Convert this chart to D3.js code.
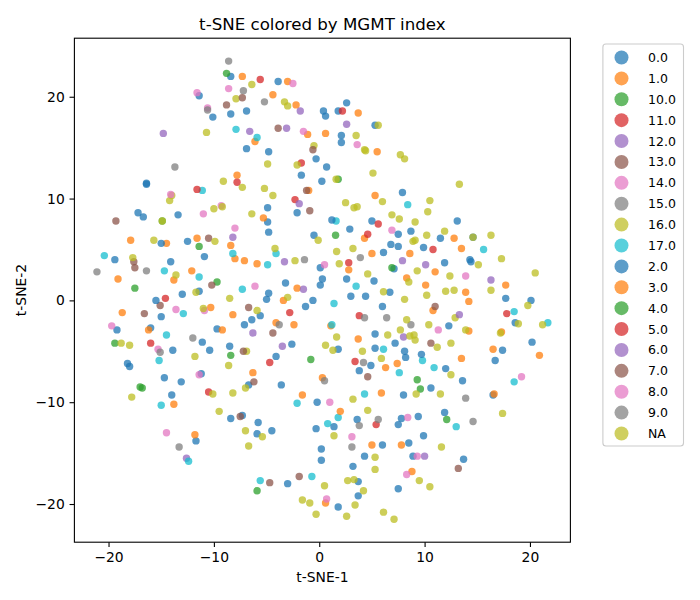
<!DOCTYPE html>
<html><head><meta charset="utf-8">
<script src="https://cdn.jsdelivr.net/npm/d3@7"></script>
<style>
html,body{margin:0;padding:0;background:#fff}
svg{display:block}
text{font-family:"DejaVu Sans",sans-serif;fill:#000}
</style></head><body><div id="chart"></div>
<script>
const categories = ["0.0","1.0","10.0","11.0","12.0","13.0","14.0","15.0","16.0","17.0","2.0","3.0","4.0","5.0","6.0","7.0","8.0","9.0","NA"];
const colors = ["#1f77b4","#ff7f0e","#2ca02c","#d62728","#9467bd","#8c564b","#e377c2","#7f7f7f","#bcbd22","#17becf"];
const xTicks = [-20,-10,0,10,20];
const yTicks = [-20,-10,0,10,20];

const s0_0 = [[-8.4,22],[-3.9,21.5],[-11.4,20.1],[-10.1,18],[-8.4,18.3],[-6.9,18.6],[-6.9,14.9],[-4.8,14.6],[-0.3,13.9],[2.6,19.4],[0.4,18.6],[0.6,18.1],[1.8,18.6],[5.3,17.2],[2.1,16.2],[2.1,15.5],[0.7,13.1],[-1.7,12.3],[-16.4,11.5],[-16.4,11.4],[-17.2,8.6],[-16.7,8.2],[-13.4,8.4],[-4.9,9.1],[-4.9,7.7],[-2.1,8.6],[-4.8,6.7],[-0.5,6.4],[-12.5,5.8],[-19.4,4],[-10.9,4.3],[-14.1,3.8],[0.1,3.2],[0.3,2.1],[0.1,1.5],[-3.2,1.7],[-11.4,0.9],[-13,0.6],[-4.8,0.7]];
const s1_0 = [[-7.3,22],[-3,21.5],[-4.4,20.2],[-2.2,19.2],[-1.1,16.3],[-6.1,15.6],[3.7,18.4],[0.6,16.4],[5.5,14.6],[-7.8,12.3],[-1,10.8],[-5.3,8.1],[-17.9,5.9],[-14.5,5.6],[-11.6,6.1],[-8.4,5.4],[-8,4.1],[-7.1,3.9],[-5.9,3.6],[-12.1,2.9],[-13.8,2],[-19.1,2.1],[-2.1,1.2],[1.1,-2.5]];
const s10_0 = [[-8.8,22.3],[-14.9,7.8],[1.8,11.9],[1.55,6.4],[-11.4,5.3],[-17.5,1.2],[-9.7,1.8]];
const s11_0 = [[-5.6,21.7],[-1.7,13.5],[-7.8,11.6],[-2.3,9.9],[10.8,5],[2.8,3.7],[-14.6,0.2],[-2.8,-1.2]];
const s12_0 = [[-1.8,18.6],[-14.8,16.4],[-6.6,16.6],[-3.1,16.9],[-12.6,-15.5],[2.6,17.3],[-1.9,9.5],[-8.2,6.2],[-3.3,3.8]];
const s13_0 = [[-8.8,19.2],[-3.9,16.9],[-19.3,7.8],[-10.5,6.1],[-17.6,3.8],[-17.5,3.2],[-10.2,1.5],[-0.9,8.8],[-15.1,-0.5],[-16.6,-1.3]];
const s14_0 = [[-2.5,21.3],[-11.6,20.4],[-8.6,20.8],[-1.5,16.6],[3.6,15.3],[-9.3,9.3],[-11,8.5],[-8,7.1],[6.9,6.9],[-6.1,1.4],[0.5,3.5],[-13.6,-0.9],[13.9,2.4]];
const s15_0 = [[-8.6,23.5],[-7.2,20.6],[-5.2,19.5],[-13.7,13.1],[3.9,4.2],[-21.1,2.8],[-16.4,2.9],[-1.4,4]];
const s16_0 = [[-0.5,15.2],[-14,10.3],[-14.2,9.8],[-11.7,0.8],[-6.9,-5],[12.9,-1.7],[-10,9],[-6.4,21.2],[-3.3,19.5],[-3,19.1],[-7.9,19.8],[-10.7,16.5],[-4.9,13.4]];
const s17_0 = [[-7.9,16.8],[-5.9,16],[-11.1,10.8],[8.4,9.4],[1.6,7.8],[15.6,5],[3.5,1.4],[-4.1,4.6],[-8.2,4.6],[-20.4,4.4],[-4.9,3.5],[-14.7,2.9],[-11.4,2.3],[-7.3,1.1],[-12.9,-1.3],[-14.5,-3.4],[-15.2,-5.9],[-15,-10.3],[-2.1,-10.1],[1.4,-0.3],[18.5,-1.1],[21.7,-2.2],[1.2,-2.4],[6.1,-4.8],[9.8,-5.9],[7.6,-7.1],[10.9,-6.6],[18.5,-8],[4.3,-9.2],[1.8,-11.5],[-12.4,-15.8],[-5.6,-17.7],[-0.7,-17.3],[0.8,-12.1],[13,-12.4]];
const s2_0 = [[-15,5.6],[0.25,11.7],[7.9,10.6],[1.2,7.9],[5,7.8],[13.1,7.8],[2.9,7],[8.7,6.8],[7.5,6.5],[11.5,6.1],[14.6,6.2],[6.8,5.5],[7.5,5.3],[9.9,5.2],[6.1,4.7],[11.9,3.7],[14.3,4],[14.4,3.8],[7.1,3.1],[2.6,2.1],[5.2,1.9],[6.7,0.8],[3,0.4],[4.4,0.4],[-15.5,0],[-5,0.1],[-0.6,0],[-1.3,-0.6],[-15,-1.6],[-5.6,-1.5],[-6.4,-1.9],[-7.1,-2.4],[-19.2,-2.9],[-16,-2.7],[-9.7,-2.8],[-11.1,-4.1],[-8.5,-4.5],[-2.6,-4.3],[-13.9,-4.9],[-10.4,-4.9],[-4.1,-5.5],[-18.2,-6.2],[-18,-6.5],[-14.7,-7.6],[-13.1,-8],[-11.2,-7.2],[-6.7,-8.3],[-3.6,-8.3],[-14,-9.3],[-0.2,-10],[-8.4,-11.6],[-7.3,-11.3],[6,-0.6],[17.7,0.2],[20.1,0],[12.3,-2.5],[18.6,-2.2],[5.3,-3.3],[7.2,-4.2],[20.2,-4.1],[5.3,-4.7],[1.8,-4.8],[8.1,-5],[17.4,-4.9],[9.7,-5.3],[8.2,-5.6],[16.7,-5.9],[4.9,-6.4],[3.8,-6.9],[12,-6.7],[13.6,-7.9],[10.6,-8.6],[8,-9.3],[16.5,-9.3],[11.9,-11],[3.6,-11.7],[7.8,-11.6],[9.4,-11.4],[-5.8,-12],[-5.9,-13.1],[-4.5,-12.8],[-0.3,-12.6],[0.2,-14.6],[0.2,-15.7],[-11.7,-13.8],[-3,-18],[1.4,-12.4],[7.5,-12.2],[9.9,-13.3],[6,-14.2],[8.5,-14],[4.3,-15.3],[8.9,-15.3],[13.7,-15.6],[3.2,-16.3],[3.7,-17.8],[7.5,-18.5],[3.7,-19.2],[1.8,-20.3]];
const s3_0 = [[5.3,10.3],[4.3,6.1],[12.8,6.1],[13.5,5.1],[5,4.6],[8.6,4.6],[2.8,3],[11,2.8],[8.3,2.2],[10.1,1.5],[17.7,1.5],[13.9,0.8],[-3.4,0],[-18.7,-1.2],[-10.3,-0.7],[-8.2,-1.4],[-4.1,-2.2],[-2.4,-2.4],[-16.2,-2.9],[-9.2,-2.9],[-6.3,-7.1],[-1.6,-9.3],[-13.8,-10.2],[14.2,-0.1],[10.8,-1],[14.2,-3],[17.3,-3.1],[3.7,-3.8],[16.5,-4.8],[20.9,-5.4],[13.5,-5.7],[7.4,-6.2],[6.3,-6.6],[0.3,-7.6],[5.9,-9.1],[16.6,-9.2],[2,-10.9],[-11.8,-13.2],[5,-14.2],[7.8,-14.2],[8.8,-16.8],[0.6,-19.9]];
const s4_0 = [[6.9,3.2],[-19.4,-4.2],[-8.4,-5.4],[-0.8,-5.8],[-17,-8.5],[-16.8,-8.6],[9.3,-7.8],[9.6,-8.7],[12.1,-11.7],[-5.9,-18.7]];
const s5_0 = [[2.2,18.6],[-11.6,10.9],[4.6,6.5],[5.6,7.5],[-16,-4.2],[-4.7,-6.1],[-10.5,-9],[3.8,-1.5],[17.8,-1.3],[3.4,-6],[5.4,-12.2]];
const s6_0 = [[-1.5,1.1],[7.9,3.9],[10.1,3.5],[16.3,2],[-6.3,-3.2],[-3.5,-4.5],[13.3,-1.4],[8,-3.6],[10,-15.3]];
const s7_0 = [[-7.3,19.9],[-0.6,14.8],[-1.2,10.8],[-6.7,-0.7],[-4.4,-3.2],[-7.2,-5],[-6.2,-8],[-7.5,-11.4],[11,-0.6],[10.6,-4.2],[4.6,-7.5],[-4.7,-17.9],[-1.9,-17.3],[13.2,-16.5]];
const s8_0 = [[-10.6,18.9],[-14.1,10.4],[-10.9,-1],[-19.7,-2.5],[-15.3,-4.8],[-11.4,-7.3],[11.3,-2.9],[19.2,-7.5],[1,-10],[-14.5,-13],[3.1,-13.4],[8.4,-11.5],[9.3,-15.3],[8.3,-17.1],[0.7,-19.5]];
const s9_0 = [[-10.6,18.7],[-12,-3.7],[-3.8,-2.4],[-15.1,-5.1],[4.3,-1.7],[6.4,-1.7],[8.7,-2.4],[4.2,-6.1],[0.5,-7.9],[13.9,-9.6],[5.6,-11.7],[14.6,-11.9],[-13.3,-14.4],[3.8,-12.3],[3.1,-14.4]];
const sNA = [[-2.1,13.3],[5.6,17.2],[3.5,16.2],[4.3,14.8],[4.4,14.7],[7.7,14.3],[8.1,13.9],[-9.1,11.7],[-7.3,11.1],[-5.2,11],[-4.4,10.3],[-9.2,9.2],[-14.9,7.8],[-6.4,8.5],[-0.1,5.9],[-15.7,5.9],[-9.9,5.8],[-4.2,5.1],[-17.7,4.2],[-2.3,3.9],[-13.6,2.5],[5.1,12.5],[1.6,11.9],[13.3,11.4],[6,9.7],[10.5,9.8],[2.5,9.6],[3.3,9.1],[3.6,9.2],[10.3,8.7],[6.9,8.4],[7.6,8],[9.1,7.7],[11.9,6.8],[10.2,6.4],[16.3,6.4],[14.6,6.2],[8.9,5.8],[9.1,5.9],[3.2,5.1],[1.65,4.8],[17.3,4.1],[15.1,3.5],[1.9,3.6],[9.3,2.9],[4.6,2.6],[12.4,2.4],[20.5,2.7],[8.5,1.8],[12,0.9],[12.8,1],[16.3,1],[6.1,0.85],[10.2,0.5],[-8.5,0.2],[-3,0.3],[-11,-0.8],[-5.9,-1],[-18.8,-4.2],[-18,-4.4],[-11.8,-5.5],[-8.6,-6.4],[-7,-8.6],[-17.8,-9.5],[-10.1,-9.2],[-8.2,-9.1],[-9.5,-10.9],[8.1,0.1],[19.8,-0.5],[18.9,-2.3],[21.2,-2.4],[8.3,-1.9],[10.4,-2.4],[13.9,-2.9],[17.2,-3.2],[7.7,-2.9],[6.5,-3.4],[8.6,-3.5],[9,-3.4],[9.1,-3.9],[1.65,-3.6],[12.5,-4.2],[0.6,-4.4],[11.2,-4.6],[1.3,-4.9],[4.1,-5],[5.9,-5.7],[12.5,-7.3],[9.2,-9.2],[11.5,-9.2],[3.2,-9.7],[4.6,-10.8],[17.4,-11.1],[-7,-12.8],[-5.4,-13.4],[-6.7,-14.3],[-1.6,-19.6],[-0.9,-19.9],[-0.3,-21],[1.4,-13.3],[11.6,-14.4],[5.3,-15.4],[5.3,-16.6],[2.7,-17.7],[3.3,-17.6],[9.5,-17.7],[10.5,-18.3],[0.5,-18.2],[4.2,-18.7],[3.4,-20.1],[2.6,-21.2],[6.1,-20.8],[7.1,-21.5]];

const seriesValues = [s0_0,s1_0,s10_0,s11_0,s12_0,s13_0,s14_0,s15_0,s16_0,s17_0,s2_0,s3_0,s4_0,s5_0,s6_0,s7_0,s8_0,s9_0,sNA];

const W = 700, H = 600;
const L = 74.4, R = 570.4, T = 38.2, B = 542.2;
const svg = d3.select("#chart").append("svg").attr("width",W).attr("height",H);
const x = d3.scaleLinear().domain([-23.24,23.84]).range([L,R]);
const y = d3.scaleLinear().domain([-23.75,25.75]).range([B,T]);
const color = d3.scaleOrdinal().domain(categories).range(colors);
const FS = 13.89;

const marks = svg.append("g");
categories.forEach((c,i)=>{
  marks.append("g").selectAll("circle").data(seriesValues[i]).join("circle")
    .attr("cx",d=>x(d[0])).attr("cy",d=>y(d[1])).attr("r",3.7)
    .attr("fill",color(c)).attr("fill-opacity",0.75);
});

const ax = svg.append("g").attr("transform",`translate(0,${B})`)
  .call(d3.axisBottom(x).tickValues(xTicks).tickSize(4.86).tickPadding(4.8));
const ay = svg.append("g").attr("transform",`translate(${L},0)`)
  .call(d3.axisLeft(y).tickValues(yTicks).tickSize(4.86).tickPadding(4.8));
[ax,ay].forEach(a=>{
  a.select(".domain").remove();
  a.selectAll("line").attr("stroke","#000").attr("stroke-width",1.1);
  a.selectAll("text").attr("font-size",FS).attr("font-family",'"DejaVu Sans",sans-serif');
});
svg.append("rect").attr("x",L).attr("y",T).attr("width",R-L).attr("height",B-T)
  .attr("fill","none").attr("stroke","#000").attr("stroke-width",1.1);

svg.append("text").attr("x",(L+R)/2).attr("y",29.5).attr("text-anchor","middle").attr("font-size",16.67).text("t-SNE colored by MGMT index");
svg.append("text").attr("x",(L+R)/2).attr("y",582).attr("text-anchor","middle").attr("font-size",FS).text("t-SNE-1");
svg.append("text").attr("transform","translate(25.5,290) rotate(-90)").attr("text-anchor","middle").attr("font-size",FS).text("t-SNE-2");

const lg = svg.append("g");
lg.append("rect").attr("x",602.9).attr("y",44).attr("width",80.6).attr("height",402).attr("rx",3)
  .attr("fill","#fff").attr("fill-opacity",0.8).attr("stroke","#ccc").attr("stroke-width",1.1);
const ly = d3.scalePoint().domain(categories).range([57.5,433.5]);
const row = lg.selectAll("g.row").data(categories).join("g").attr("class","row").attr("transform",d=>`translate(0,${ly(d)})`);
row.append("circle").attr("cx",621.5).attr("cy",0).attr("r",7)
  .attr("fill",d=>color(d)).attr("fill-opacity",0.72);
row.append("text").attr("x",648).attr("y",4.5).attr("font-size",12.5).text(d=>d);
</script></body></html>
